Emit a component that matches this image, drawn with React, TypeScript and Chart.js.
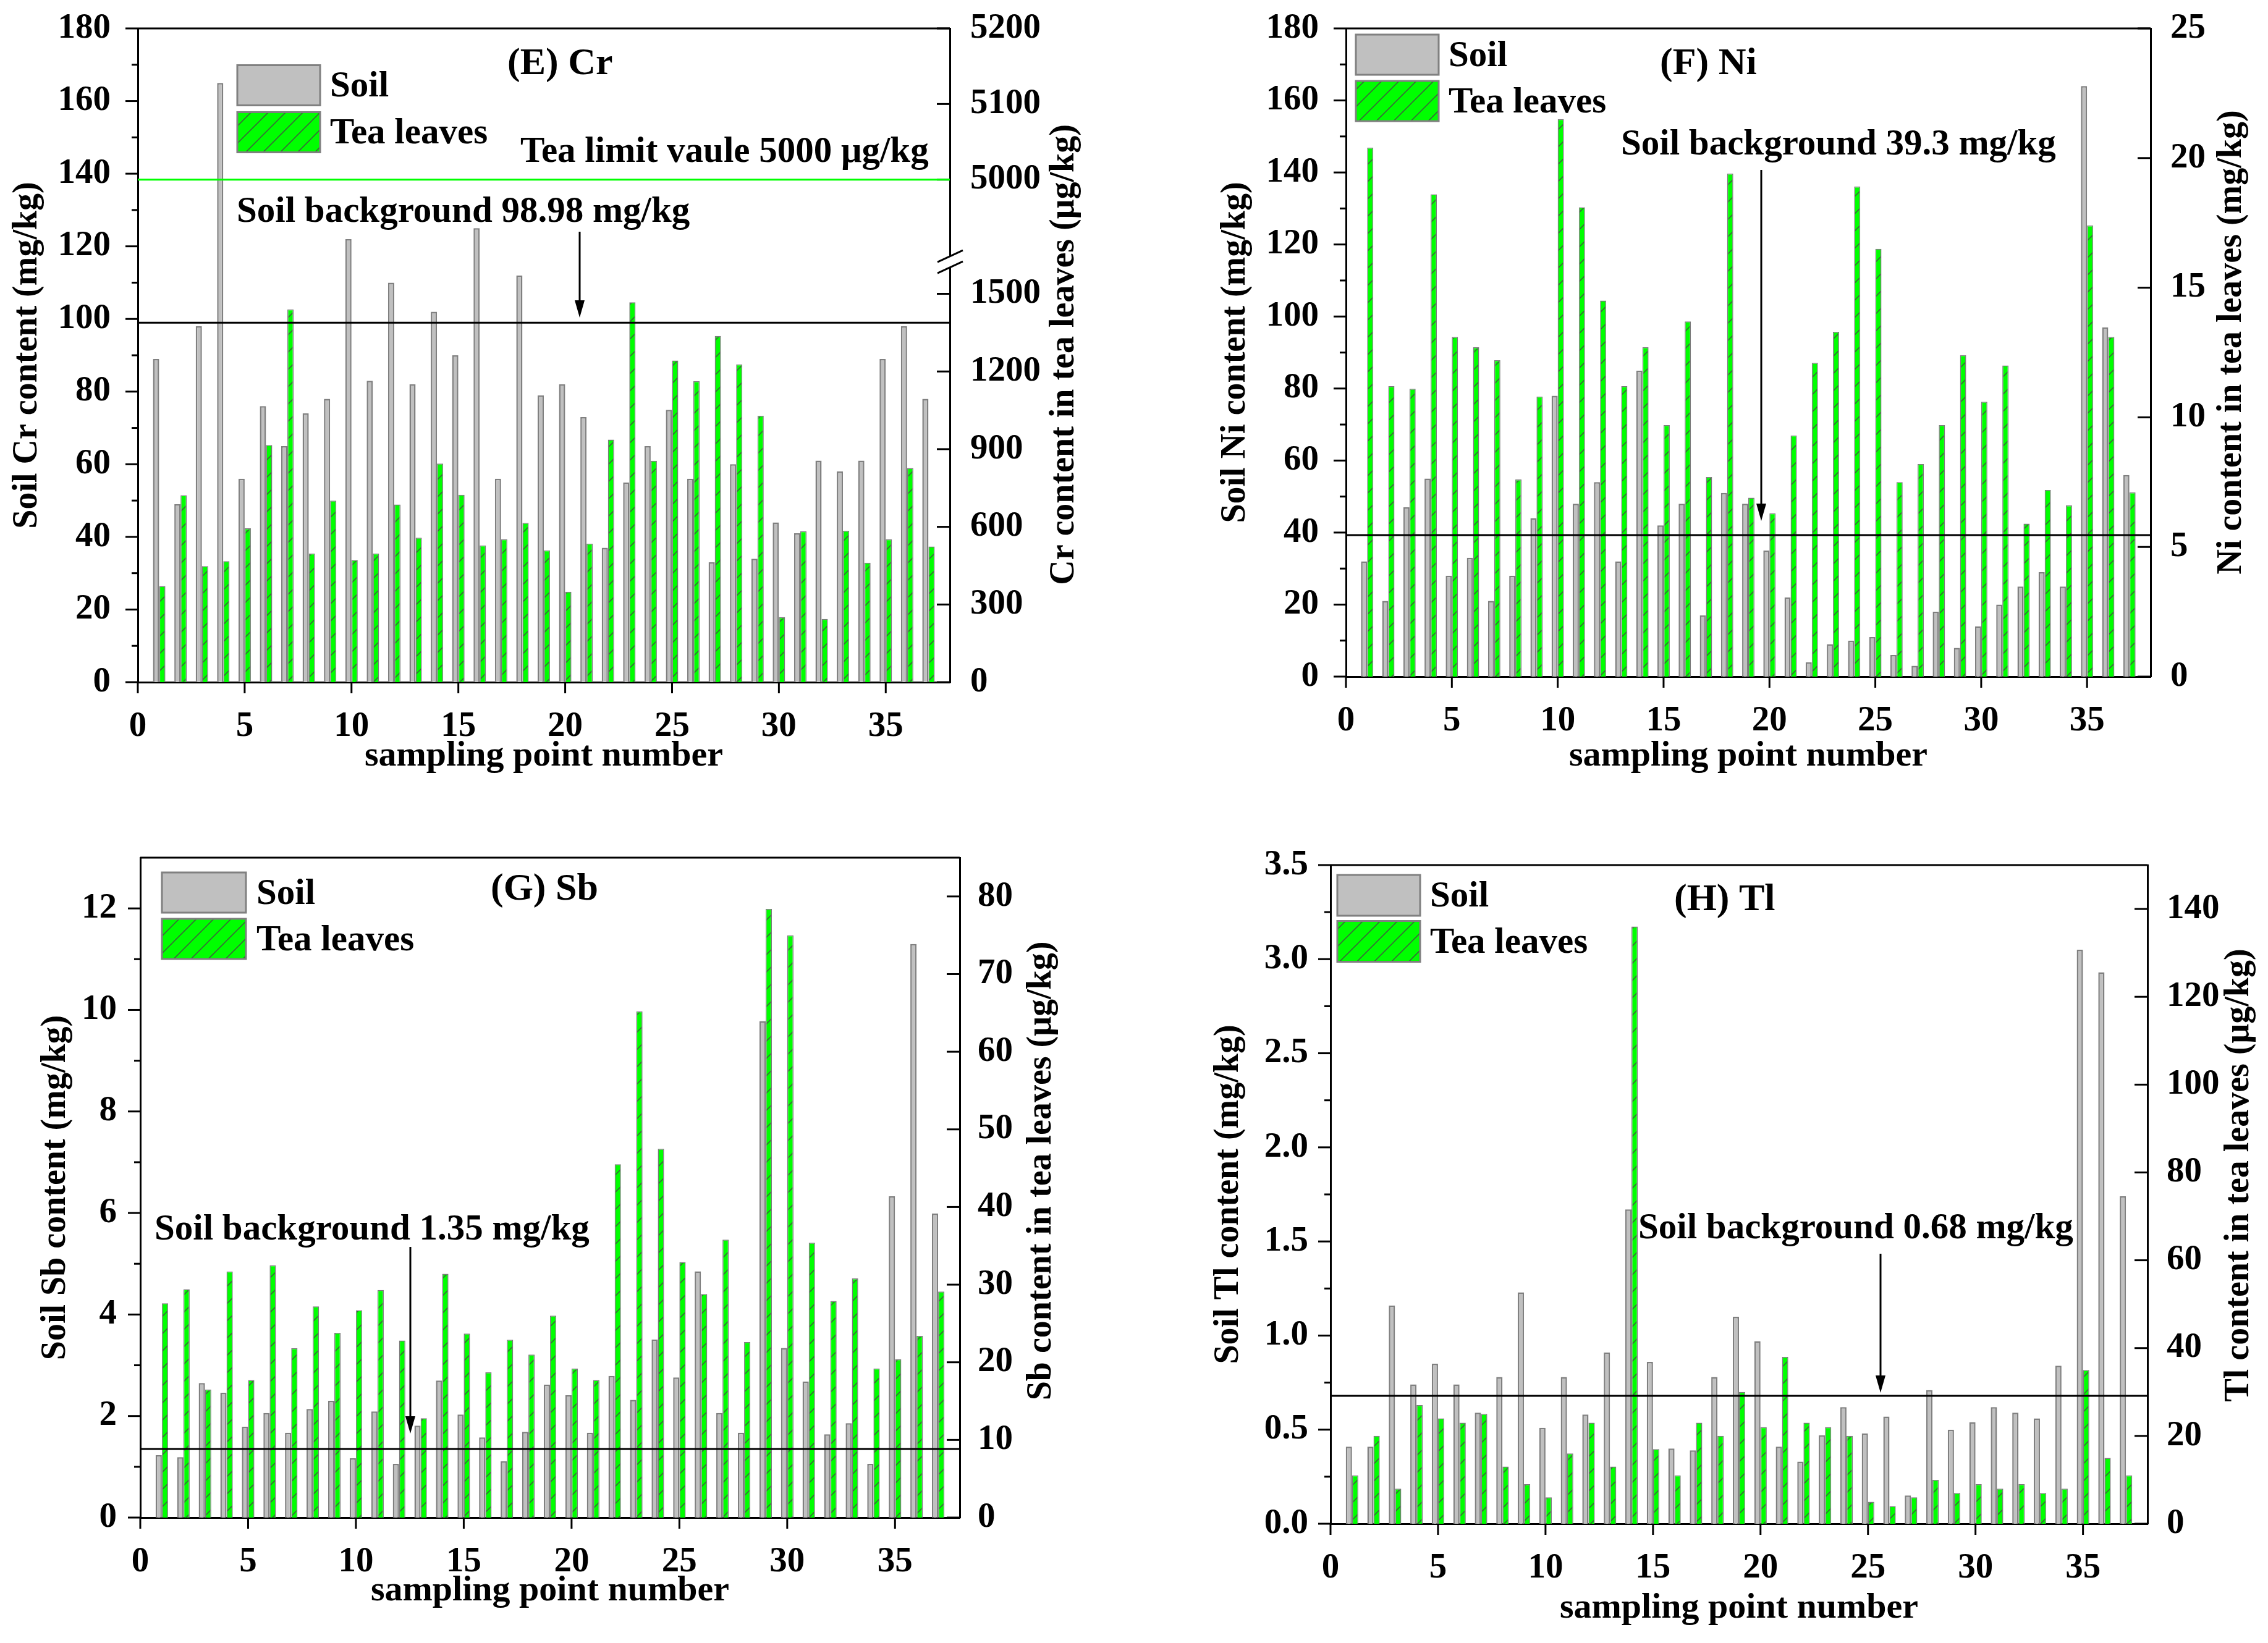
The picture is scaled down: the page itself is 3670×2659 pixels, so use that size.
// Soil / tea leaves heavy metal bar charts, panels (E)-(H)
import React, { useEffect, useRef } from 'react';
import { Chart, registerables } from 'chart.js';

Chart.register(...registerables);

const FONT = '"Liberation Serif", "Times New Roman", serif';

const samplePoints = [
  1, 2, 3, 4, 5, 6, 7, 8, 9, 10, 11, 12, 13, 14, 15, 16, 17, 18, 19, 20,
  21, 22, 23, 24, 25, 26, 27, 28, 29, 30, 31, 32, 33, 34, 35, 36, 37,
];

// (E) Cr: soil mg/kg, tea leaves µg/kg
const crSoil = [89, 49, 98, 165, 56, 76, 65, 74, 78, 122, 83, 110, 82, 102, 90, 125, 56, 112, 79, 82, 73, 37, 55, 65, 75, 56, 33, 60, 34, 44, 41, 61, 58, 61, 89, 98, 78];
const crTea = [371, 722, 448, 467, 594, 916, 1440, 497, 701, 472, 497, 686, 558, 844, 724, 528, 552, 615, 509, 349, 535, 937, 1467, 855, 1242, 1162, 1337, 1227, 1029, 251, 583, 244, 585, 461, 552, 827, 524];
const crTeaTickLabels = [0, 300, 600, 900, 1200, 1500, 5000, 5100, 5200];
const crTeaLimit = 5000;
const crSoilBackground = 98.98;

// (F) Ni: soil mg/kg, tea leaves mg/kg
const niSoil = [32, 21, 47, 55, 28, 33, 21, 28, 44, 78, 48, 54, 32, 85, 42, 48, 17, 51, 48, 35, 22, 4, 9, 10, 11, 6, 3, 18, 8, 14, 20, 25, 29, 25, 164, 97, 56];
const niTea = [20.4, 11.2, 11.1, 18.6, 13.1, 12.7, 12.2, 7.6, 10.8, 21.5, 18.1, 14.5, 11.2, 12.7, 9.7, 13.7, 7.7, 19.4, 6.9, 6.3, 9.3, 12.1, 13.3, 18.9, 16.5, 7.5, 8.2, 9.7, 12.4, 10.6, 12.0, 5.9, 7.2, 6.6, 17.4, 13.1, 7.1];
const niSoilBackground = 39.3;

// (G) Sb: soil mg/kg, tea leaves µg/kg
const sbSoil = [1.23, 1.19, 2.65, 2.46, 1.79, 2.06, 1.67, 2.14, 2.3, 1.17, 2.09, 1.06, 1.81, 2.7, 2.03, 1.58, 1.11, 1.69, 2.62, 2.41, 1.67, 2.79, 2.32, 3.51, 2.76, 4.85, 2.06, 1.67, 9.78, 3.34, 2.68, 1.64, 1.86, 1.06, 6.33, 11.3, 5.99];
const sbTea = [27.6, 29.4, 16.5, 31.7, 17.7, 32.5, 21.8, 27.2, 23.8, 26.7, 29.3, 22.8, 12.8, 31.4, 23.7, 18.7, 22.9, 21.0, 26.0, 19.2, 17.7, 45.5, 65.2, 47.5, 32.9, 28.8, 35.8, 22.6, 78.4, 75.0, 35.4, 27.9, 30.8, 19.2, 20.4, 23.4, 29.1];
const sbSoilBackground = 1.35;

// (H) Tl: soil mg/kg, tea leaves µg/kg
const tlSoil = [0.41, 0.41, 1.16, 0.74, 0.85, 0.74, 0.59, 0.78, 1.23, 0.51, 0.78, 0.58, 0.91, 1.67, 0.86, 0.4, 0.39, 0.78, 1.1, 0.97, 0.41, 0.33, 0.47, 0.62, 0.48, 0.57, 0.15, 0.71, 0.5, 0.54, 0.62, 0.59, 0.56, 0.84, 3.05, 2.93, 1.74];
const tlTea = [11, 20, 8, 27, 24, 23, 25, 13, 9, 6, 16, 23, 13, 136, 17, 11, 23, 20, 30, 22, 38, 23, 22, 20, 5, 4, 6, 10, 7, 9, 8, 9, 7, 8, 35, 15, 11];
const tlSoilBackground = 0.68;

// broken right axis of (E): everything below the break is drawn as is,
// the 5000-5200 segment is stretched and put on top of it
const crBreakFrom = 1600;
const crBreakTo = 5000;
const crBreakAt = 1941;
const crUpperStretch = 2.92;
const crAxis = (v: number) => (v <= crBreakFrom ? v : crBreakAt + (v - crBreakTo) * crUpperStretch);

type Spec = {
  box: { left: number; top: number; width: number; height: number };
  area: { left: number; right: number; top: number; bottom: number };
  soil: number[];
  tea: number[];
  teaAxis?: (v: number) => number;
  yMax: number;
  yStep: number;
  yFormat?: (v: number) => string;
  y1Max: number;
  y1Step: number;
  y1Labels?: number[];
  yTitle: string;
  y1Title: string;
  yTitleX: number;
  y1TitleAt: [number, number];
  xTitleY: number;
  yPad: number;
  y1Pad: number;
  heading: { text: string; x: number; y: number };
  legend: { x: number; w: number; h: number; rows: number[]; textX: number };
  background: { value: number; text: string; x: number; y: number; arrowX: number; arrowTop: number; arrowTip: number };
  limit?: { value: number; text: string; x: number; y: number };
  breakValue?: number;
};

const panels: Spec[] = [
  {
    box: { left: 0, top: 0, width: 1835, height: 1329 },
    area: { left: 223, right: 1537, top: 46, bottom: 1104 },
    soil: crSoil,
    tea: crTea,
    teaAxis: crAxis,
    yMax: 180,
    yStep: 20,
    y1Max: crAxis(5200),
    y1Step: 300,
    y1Labels: crTeaTickLabels,
    yTitle: 'Soil Cr content (mg/kg)',
    y1Title: 'Cr content in tea leaves (μg/kg)',
    yTitleX: 45,
    y1TitleAt: [1723, 574],
    xTitleY: 1224,
    yPad: 36,
    y1Pad: 25,
    heading: { text: '(E) Cr', x: 821, y: 104 },
    legend: { x: 384, w: 134, h: 65, rows: [138, 214], textX: 534 },
    background: { value: crSoilBackground, text: 'Soil background 98.98 mg/kg', x: 383, y: 344, arrowX: 938, arrowTop: 375, arrowTip: 514 },
    limit: { value: crTeaLimit, text: 'Tea limit vaule 5000 μg/kg', x: 842, y: 247 },
    breakValue: 1625,
  },
  {
    box: { left: 1835, top: 0, width: 1835, height: 1329 },
    area: { left: 343, right: 1645, top: 46, bottom: 1095 },
    soil: niSoil,
    tea: niTea,
    yMax: 180,
    yStep: 20,
    y1Max: 25,
    y1Step: 5,
    yTitle: 'Soil Ni content (mg/kg)',
    y1Title: 'Ni content in tea leaves (mg/kg)',
    yTitleX: 165,
    y1TitleAt: [1777, 554],
    xTitleY: 1224,
    yPad: 36,
    y1Pad: 24,
    heading: { text: '(F) Ni', x: 851, y: 104 },
    legend: { x: 359, w: 134, h: 65, rows: [88.5, 163.5], textX: 509 },
    background: { value: niSoilBackground, text: 'Soil background 39.3 mg/kg', x: 788, y: 235, arrowX: 1015, arrowTop: 275, arrowTip: 843 },
  },
  {
    box: { left: 0, top: 1329, width: 1835, height: 1330 },
    area: { left: 227, right: 1553, top: 59, bottom: 1127 },
    soil: sbSoil,
    tea: sbTea,
    yMax: 13,
    yStep: 2,
    y1Max: 85,
    y1Step: 10,
    yTitle: 'Soil Sb content (mg/kg)',
    y1Title: 'Sb content in tea leaves (μg/kg)',
    yTitleX: 91,
    y1TitleAt: [1686, 566],
    xTitleY: 1246,
    yPad: 30,
    y1Pad: 21,
    heading: { text: '(G) Sb', x: 794, y: 111 },
    legend: { x: 262, w: 136, h: 65, rows: [115.5, 190.5], textX: 415 },
    background: { value: sbSoilBackground, text: 'Soil background 1.35 mg/kg', x: 250, y: 662, arrowX: 664, arrowTop: 689, arrowTip: 991 },
  },
  {
    box: { left: 1835, top: 1329, width: 1835, height: 1330 },
    area: { left: 318, right: 1640, top: 71, bottom: 1137 },
    soil: tlSoil,
    tea: tlTea,
    yMax: 3.5,
    yStep: 0.5,
    yFormat: (v) => v.toFixed(1),
    y1Max: 150,
    y1Step: 20,
    yTitle: 'Soil Tl content (mg/kg)',
    y1Title: 'Tl content in tea leaves (μg/kg)',
    yTitleX: 154,
    y1TitleAt: [1789, 573],
    xTitleY: 1274,
    yPad: 28,
    y1Pad: 23,
    heading: { text: '(H) Tl', x: 874, y: 128 },
    legend: { x: 329, w: 134, h: 66, rows: [120, 194.5], textX: 479 },
    background: { value: tlSoilBackground, text: 'Soil background 0.68 mg/kg', x: 816, y: 660, arrowX: 1208, arrowTop: 700, arrowTip: 925 },
  },
];

function makeHatch(): CanvasPattern | string {
  const c = document.createElement('canvas');
  c.width = 28;
  c.height = 28;
  const g = c.getContext('2d');
  if (!g) return '#00ff00';
  g.fillStyle = '#00ff00';
  g.fillRect(0, 0, 28, 28);
  g.strokeStyle = 'rgba(70,70,70,0.8)';
  g.lineWidth = 1.6;
  g.beginPath();
  g.moveTo(-2, 30);
  g.lineTo(30, -2);
  g.moveTo(-2, 2);
  g.lineTo(2, -2);
  g.moveTo(26, 30);
  g.lineTo(30, 26);
  g.stroke();
  return g.createPattern(c, 'repeat') || '#00ff00';
}

function Panel({ p }: { p: Spec }) {
  const chartRef = useRef<HTMLCanvasElement>(null);

  useEffect(() => {
    const ctx = chartRef.current?.getContext('2d');
    if (!ctx) return;
    const hatch = makeHatch();
    const tickFont = { family: FONT, weight: 'bold' as const, size: 57 };
    const border = { display: true, color: '#000', width: 3 };

    // frame, tick marks, reference lines, labels and legend
    const deco = {
      id: 'deco',
      afterDatasetsDraw(chart: any) {
        const { chartArea: a, scales } = chart;
        const c = chart.ctx as CanvasRenderingContext2D;
        const x = scales.x, y = scales.y, y1 = scales.y1;
        const seg = (x0: number, y0: number, x1: number, y1p: number) => {
          c.beginPath();
          c.moveTo(x0, y0);
          c.lineTo(x1, y1p);
          c.stroke();
        };
        c.save();
        c.strokeStyle = '#000';
        c.lineWidth = 3;
        seg(a.left, a.top, a.right, a.top);

        y.ticks.forEach((t: any, i: number) => {
          const py = y.getPixelForValue(t.value);
          seg(a.left - 20, py, a.left, py);
          const next = y.ticks[i + 1];
          if (next) {
            const pm = y.getPixelForValue((t.value + next.value) / 2);
            seg(a.left - 10, pm, a.left, pm);
          }
        });
        y1.ticks.forEach((t: any) => {
          const py = y1.getPixelForValue(t.value);
          seg(a.right - 21, py, a.right, py);
        });
        x.ticks.forEach((t: any) => {
          const px = x.getPixelForValue(t.value);
          seg(px, a.bottom, px, a.bottom + 18);
        });

        // soil background line
        const bg = p.background;
        const by = y.getPixelForValue(bg.value);
        seg(a.left, by, a.right, by);

        if (p.limit) {
          const ly = y1.getPixelForValue(p.teaAxis ? p.teaAxis(p.limit.value) : p.limit.value);
          c.strokeStyle = '#00ff00';
          seg(a.left, ly, a.right, ly);
          c.strokeStyle = '#000';
        }

        if (p.breakValue !== undefined) {
          const yc = y1.getPixelForValue(p.breakValue);
          c.fillStyle = '#fff';
          c.fillRect(a.right - 4, yc - 9, 8, 18);
          seg(a.right - 20, yc + 1, a.right + 21, yc - 18);
          seg(a.right - 20, yc + 19, a.right + 21, yc);
        }

        // arrow
        c.lineWidth = 3;
        seg(bg.arrowX, bg.arrowTop, bg.arrowX, bg.arrowTip - 20);
        c.fillStyle = '#000';
        c.beginPath();
        c.moveTo(bg.arrowX - 8, bg.arrowTip - 28);
        c.lineTo(bg.arrowX + 8, bg.arrowTip - 28);
        c.lineTo(bg.arrowX, bg.arrowTip);
        c.closePath();
        c.fill();

        c.fillStyle = '#000';
        c.textBaseline = 'middle';
        c.textAlign = 'left';
        c.font = `bold 59px ${FONT}`;
        c.fillText(bg.text, bg.x, bg.y);
        if (p.limit) c.fillText(p.limit.text, p.limit.x, p.limit.y);
        c.font = `bold 62px ${FONT}`;
        c.fillText(p.heading.text, p.heading.x, p.heading.y);

        // legend
        const lg = p.legend;
        chart.data.datasets.forEach((d: any, i: number) => {
          const top = lg.rows[i] - lg.h / 2;
          c.fillStyle = d.backgroundColor;
          c.fillRect(lg.x, top, lg.w, lg.h);
          c.strokeStyle = '#808080';
          c.lineWidth = 3;
          c.strokeRect(lg.x, top, lg.w, lg.h);
          c.fillStyle = '#000';
          c.font = `bold 59px ${FONT}`;
          c.fillText(d.label, lg.textX, lg.rows[i] + 3);
        });

        // right axis title, reading bottom to top like the left one
        c.save();
        c.translate(p.y1TitleAt[0], p.y1TitleAt[1]);
        c.rotate(-Math.PI / 2);
        c.textAlign = 'center';
        c.font = `bold 56px ${FONT}`;
        c.fillText(p.y1Title, 0, 0);
        c.restore();

        c.restore();
      },
    };

    const chart = new Chart(ctx, {
      type: 'bar',
      data: {
        datasets: [
          {
            label: 'Soil',
            data: samplePoints.map((pt, i) => ({ x: pt, y: p.soil[i] })),
            yAxisID: 'y',
            backgroundColor: '#c0c0c0',
            borderColor: '#808080',
            borderWidth: 2.5,
          },
          {
            label: 'Tea leaves',
            data: samplePoints.map((pt, i) => ({ x: pt, y: p.teaAxis ? p.teaAxis(p.tea[i]) : p.tea[i] })),
            yAxisID: 'y1',
            backgroundColor: hatch as any,
            borderColor: '#7a7a7a',
            borderWidth: 1.5,
          },
        ],
      },
      options: {
        animation: false,
        responsive: true,
        maintainAspectRatio: false,
        layout: { padding: { top: p.area.top, left: 0, right: 0, bottom: 0 } },
        datasets: { bar: { categoryPercentage: 0.58, barPercentage: 1 } },
        plugins: { legend: { display: false }, tooltip: { enabled: false } },
        scales: {
          x: {
            type: 'linear',
            min: 0,
            max: 38,
            offset: false,
            grid: { display: false },
            border,
            ticks: { stepSize: 5, includeBounds: false, padding: 30, font: tickFont, color: '#000', maxRotation: 0, autoSkip: false },
            title: {
              display: true,
              text: 'sampling point number',
              color: '#000',
              font: { family: FONT, weight: 'bold', size: 58, lineHeight: 1 },
              padding: { top: 0, bottom: p.box.height - p.xTitleY - 29 },
            },
            afterFit: (s: any) => {
              s.height = p.box.height - p.area.bottom;
              s.paddingLeft = 0;
              s.paddingRight = 0;
            },
          },
          y: {
            position: 'left',
            min: 0,
            max: p.yMax,
            grid: { display: false },
            border,
            ticks: {
              stepSize: p.yStep,
              includeBounds: false,
              padding: p.yPad,
              font: tickFont,
              color: '#000',
              autoSkip: false,
              callback: (v: any) => (p.yFormat ? p.yFormat(Number(v)) : String(v)),
            },
            title: {
              display: true,
              text: p.yTitle,
              color: '#000',
              font: { family: FONT, weight: 'bold', size: 56, lineHeight: 1 },
              padding: { top: p.yTitleX - 28, bottom: 0 },
            },
            afterFit: (s: any) => {
              s.width = p.area.left;
              s.paddingTop = 0;
              s.paddingBottom = 0;
            },
          },
          y1: {
            position: 'right',
            min: 0,
            max: p.y1Max,
            grid: { display: false },
            border,
            ticks: {
              stepSize: p.y1Step,
              includeBounds: false,
              padding: p.y1Pad,
              font: tickFont,
              color: '#000',
              autoSkip: false,
              callback: (v: any, i: number) => (p.y1Labels ? String(p.y1Labels[i]) : String(v)),
            },
            afterBuildTicks: (s: any) => {
              if (p.y1Labels && p.teaAxis) {
                const f = p.teaAxis;
                s.ticks = p.y1Labels.map((v) => ({ value: f(v) }));
              }
            },
            afterFit: (s: any) => {
              s.width = p.box.width - p.area.right;
              s.paddingTop = 0;
              s.paddingBottom = 0;
            },
          },
        },
      } as any,
      plugins: [deco],
    });

    return () => {
      chart.destroy();
    };
  }, [p]);

  return (
    <div
      style={{
        position: 'absolute',
        left: p.box.left,
        top: p.box.top,
        width: p.box.width,
        height: p.box.height,
      }}
    >
      <canvas ref={chartRef} />
    </div>
  );
}

export default function App() {
  return (
    <div style={{ position: 'absolute', left: 0, top: 0, width: 3670, height: 2659, background: '#fff' }}>
      {panels.map((p, i) => (
        <Panel key={i} p={p} />
      ))}
    </div>
  );
}
